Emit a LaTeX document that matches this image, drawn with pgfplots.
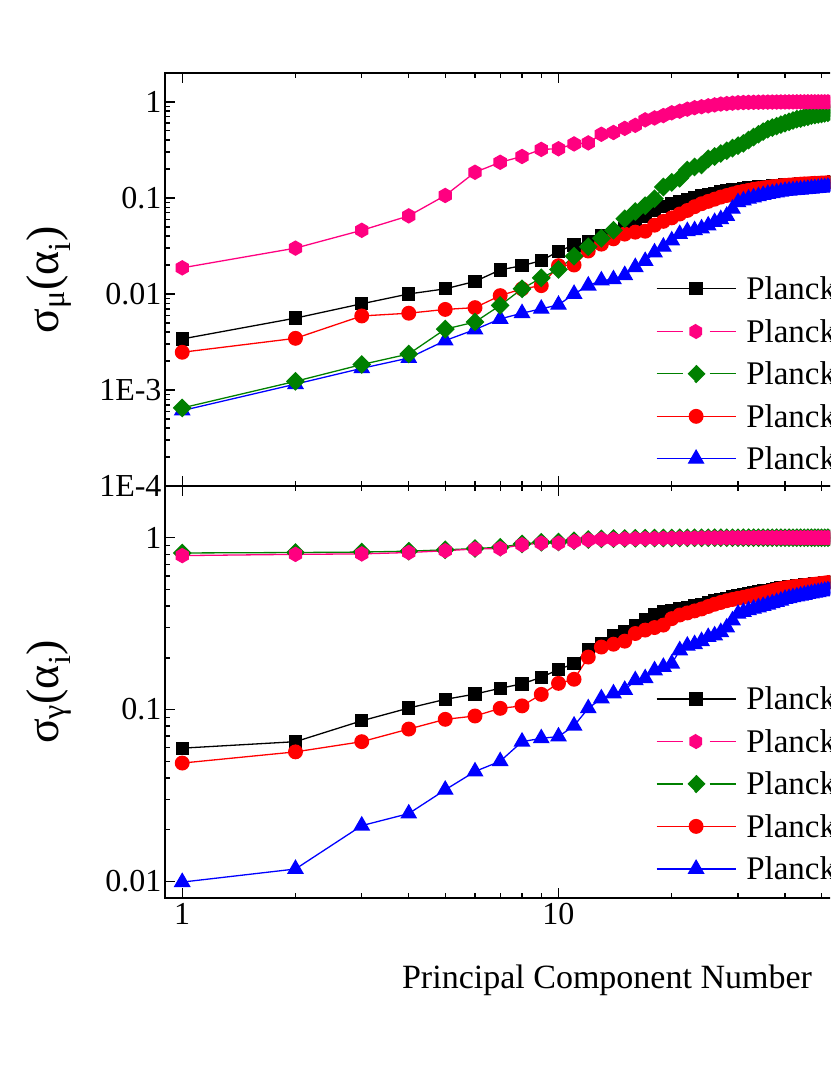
\documentclass[border=0pt]{standalone}
\usepackage{fontspec}
\setmainfont{Liberation Serif}
\usepackage{amsmath}
\usepackage{pgfplots}
\usepackage{pgfplotstable}
\pgfplotsset{compat=1.18}
\usetikzlibrary{plotmarks}
\definecolor{opink}{RGB}{255,0,128}
\definecolor{ogreen}{RGB}{0,128,0}
\definecolor{ored}{RGB}{255,0,0}
\definecolor{oblue}{RGB}{0,0,255}
\pgfdeclareplotmark{hexagon*}{%
  \pgfpathmoveto{\pgfpointpolar{90}{\pgfplotmarksize}}%
  \pgfpathlineto{\pgfpointpolar{150}{\pgfplotmarksize}}%
  \pgfpathlineto{\pgfpointpolar{210}{\pgfplotmarksize}}%
  \pgfpathlineto{\pgfpointpolar{270}{\pgfplotmarksize}}%
  \pgfpathlineto{\pgfpointpolar{330}{\pgfplotmarksize}}%
  \pgfpathlineto{\pgfpointpolar{30}{\pgfplotmarksize}}%
  \pgfpathclose\pgfusepathqfillstroke}
\pgfdeclareplotmark{rdiamond*}{%
  \pgfpathmoveto{\pgfqpoint{0pt}{\pgfplotmarksize}}%
  \pgfpathlineto{\pgfqpoint{\pgfplotmarksize}{0pt}}%
  \pgfpathlineto{\pgfqpoint{0pt}{-\pgfplotmarksize}}%
  \pgfpathlineto{\pgfqpoint{-\pgfplotmarksize}{0pt}}%
  \pgfpathclose\pgfusepathqfillstroke}

\pgfplotstableread{
x blk pnk grn red blu
1 0.0034 0.0187 0.00065 0.00247 0.00061
2 0.0056 0.030 0.00123 0.00345 0.00115
3 0.0079 0.046 0.00184 0.0059 0.00168
4 0.0100 0.065 0.00237 0.0063 0.00215
5 0.0113 0.106 0.0043 0.0069 0.00327
6 0.0135 0.185 0.0051 0.0072 0.00426
7 0.0178 0.235 0.0076 0.0096 0.0055
8 0.0197 0.27 0.0113 0.0113 0.0063
9 0.0222 0.32 0.0147 0.0122 0.0070
10 0.0278 0.325 0.018 0.0197 0.0077
11 0.0324 0.365 0.0247 0.0200 0.0100
12 0.0350 0.374 0.031 0.028 0.0122
13 0.0400 0.46 0.038 0.033 0.0138
14 0.0415 0.48 0.046 0.0375 0.0142
15 0.048 0.53 0.0607 0.042 0.0157
16 0.056 0.57 0.072 0.044 0.0190
17 0.065 0.65 0.083 0.045 0.0220
18 0.074 0.68 0.098 0.052 0.0270
19 0.082 0.72 0.130 0.057 0.0310
20 0.088 0.77 0.145 0.062 0.0360
21 0.092 0.80 0.160 0.068 0.042
22 0.097 0.84 0.195 0.074 0.045
23 0.101 0.87 0.21 0.081 0.046
24 0.105 0.89 0.22 0.087 0.048
25 0.109 0.91 0.255 0.092 0.0515
26 0.112 0.93 0.27 0.097 0.056
27 0.115 0.95 0.29 0.102 0.060
28 0.118 0.96 0.31 0.106 0.065
29 0.121 0.97 0.33 0.110 0.077
30 0.123 0.98 0.35 0.114 0.090
31 0.125 0.985 0.37 0.117 0.094
32 0.127 0.988 0.40 0.120 0.098
33 0.128 0.99 0.43 0.123 0.101
34 0.130 0.992 0.46 0.125 0.104
35 0.131 0.994 0.49 0.127 0.107
36 0.132 0.995 0.52 0.129 0.110
37 0.133 0.996 0.54 0.131 0.112
38 0.134 0.997 0.56 0.132 0.114
39 0.135 0.998 0.58 0.134 0.116
40 0.136 0.998 0.60 0.135 0.118
41 0.137 0.999 0.62 0.136 0.119
42 0.138 0.999 0.64 0.137 0.120
43 0.139 1.0 0.66 0.138 0.121
44 0.140 1.0 0.67 0.139 0.122
45 0.140 1.0 0.69 0.140 0.123
46 0.141 1.0 0.70 0.140 0.124
47 0.142 1.0 0.72 0.141 0.125
48 0.142 1.0 0.73 0.142 0.126
49 0.143 1.0 0.74 0.142 0.127
50 0.144 1.0 0.75 0.143 0.128
51 0.144 1.0 0.76 0.143 0.129
52 0.145 1.0 0.77 0.144 0.130
53 0.145 1.0 0.78 0.144 0.131
54 0.146 1.0 0.79 0.145 0.132
55 0.146 1.0 0.80 0.145 0.133
}\tabmu

\pgfplotstableread{
x blk pnk grn red blu
1 0.0596 0.787 0.815 0.0488 0.0099
2 0.065 0.80 0.82 0.0567 0.0118
3 0.086 0.805 0.825 0.065 0.0211
4 0.102 0.82 0.835 0.077 0.0248
5 0.1146 0.84 0.85 0.0877 0.0341
6 0.123 0.86 0.865 0.0917 0.0436
7 0.133 0.865 0.88 0.1016 0.050
8 0.141 0.91 0.92 0.105 0.065
9 0.154 0.93 0.94 0.1225 0.068
10 0.171 0.93 0.945 0.142 0.0696
11 0.185 0.95 0.96 0.150 0.0805
12 0.223 0.97 0.975 0.202 0.1016
13 0.242 0.98 0.985 0.231 0.116
14 0.268 0.98 0.988 0.240 0.124
15 0.283 0.985 0.99 0.250 0.130
16 0.306 0.987 0.992 0.277 0.148
17 0.333 0.989 0.994 0.290 0.152
18 0.358 0.99 0.995 0.300 0.169
19 0.370 0.992 0.996 0.310 0.177
20 0.377 0.993 0.997 0.338 0.185
21 0.385 0.994 0.998 0.355 0.221
22 0.392 0.995 0.998 0.365 0.235
23 0.400 0.996 0.999 0.375 0.240
24 0.410 0.997 0.999 0.385 0.250
25 0.420 0.998 1.0 0.398 0.264
26 0.428 0.998 1.0 0.410 0.270
27 0.436 0.998 1.0 0.420 0.282
28 0.444 0.999 1.0 0.430 0.300
29 0.452 0.999 1.0 0.437 0.330
30 0.460 0.999 1.0 0.444 0.361
31 0.466 0.999 1.0 0.450 0.370
32 0.472 0.999 1.0 0.457 0.378
33 0.478 1.0 1.0 0.464 0.386
34 0.484 1.0 1.0 0.471 0.393
35 0.490 1.0 1.0 0.478 0.400
36 0.495 1.0 1.0 0.485 0.408
37 0.500 1.0 1.0 0.492 0.415
38 0.505 1.0 1.0 0.499 0.422
39 0.510 1.0 1.0 0.505 0.430
40 0.515 1.0 1.0 0.510 0.440
41 0.518 1.0 1.0 0.514 0.445
42 0.521 1.0 1.0 0.518 0.450
43 0.524 1.0 1.0 0.521 0.455
44 0.527 1.0 1.0 0.524 0.460
45 0.530 1.0 1.0 0.527 0.465
46 0.533 1.0 1.0 0.530 0.470
47 0.536 1.0 1.0 0.533 0.474
48 0.538 1.0 1.0 0.536 0.478
49 0.540 1.0 1.0 0.539 0.482
50 0.542 1.0 1.0 0.542 0.486
51 0.545 1.0 1.0 0.545 0.490
52 0.548 1.0 1.0 0.548 0.494
53 0.550 1.0 1.0 0.551 0.498
54 0.553 1.0 1.0 0.554 0.502
55 0.556 1.0 1.0 0.557 0.506
}\tabga

\tikzset{
  ln/.style={line width=1.3pt, mark options={solid, line width=0.4pt}},
  sblk/.style={ln, draw=black, mark=square*, mark size=6pt, mark options={fill=black, draw=black}},
  spnk/.style={ln, draw=opink, mark=hexagon*, mark size=7pt, mark options={fill=opink, draw=opink}},
  sgrn/.style={ln, draw=ogreen, mark=rdiamond*, mark size=8.5pt, mark options={fill=ogreen, draw=ogreen}},
  sred/.style={ln, draw=ored, mark=*, mark size=6.8pt, mark options={fill=ored, draw=ored}},
  sblu/.style={ln, draw=oblue, mark=triangle*, mark size=8.5pt, mark options={fill=oblue, draw=oblue}},
}
\pgfplotsset{
  legend image code/.code={%
    \draw[mark repeat=2,mark phase=2,#1] plot coordinates {(0pt,4pt) (39.5pt,4pt) (79pt,4pt)};},
}

\begin{document}
\begin{tikzpicture}
\useasboundingbox (0pt,0pt) rectangle (830pt,1075pt);
\clip (0pt,0pt) rectangle (830pt,1075pt);

\begin{axis}[scale only axis, width=883pt, height=413pt,
  at={(165pt,589pt)}, anchor=south west,
  xmode=log, ymode=log, xmin=0.9, xmax=200,
  ymin=1e-4, ymax=2,
  axis line style={line width=1.6pt},
  tick style={line width=1.4pt, black},
  major tick length=10pt, minor tick length=5pt,
  tick align=inside,
  xtick={1,10,100}, xticklabels={},
  ytick={1e-4,1e-3,0.01,0.1,1}, yticklabels={1E-4,1E-3,0.01,0.1,1},
  tick label style={font=\fontsize{32pt}{32pt}\selectfont},
  legend cell align=left,
  legend style={draw=none, fill=none, at={(0.556,0.504)}, anchor=north west,
    inner sep=0pt, outer sep=0pt, row sep=12.5pt, column sep=10pt,
    nodes={inner sep=0pt, text height=22pt, text depth=8pt,
      font=\fontsize{33pt}{33pt}\selectfont}}]
\addplot[sblk, forget plot] table[x=x, y=blk] {\tabmu};
\addplot[sred, forget plot] table[x=x, y=red] {\tabmu};
\addplot[sblu, forget plot] table[x=x, y=blu] {\tabmu};
\addplot[sgrn, forget plot] table[x=x, y=grn] {\tabmu};
\addplot[spnk, forget plot] table[x=x, y=pnk] {\tabmu};
\addlegendimage{sblk}
\addlegendimage{spnk, dash pattern=on 26pt off 27pt}
\addlegendimage{sgrn, dash pattern=on 26pt off 27pt}
\addlegendimage{sred}
\addlegendimage{sblu}
\legend{Planck,Planck,Planck,Planck,Planck}
\end{axis}

\begin{axis}[scale only axis, width=883pt, height=412pt,
  at={(165pt,177pt)}, anchor=south west,
  xmode=log, ymode=log, xmin=0.9, xmax=200,
  ymin=0.008, ymax=2,
  axis line style={line width=1.6pt},
  tick style={line width=1.4pt, black},
  major tick length=10pt, minor tick length=5pt,
  tick align=inside,
  xtick={1,10,100}, xticklabels={1,10,100},
  xticklabel style={yshift=-2pt},
  ytick={0.01,0.1,1}, yticklabels={0.01,0.1,1},
  tick label style={font=\fontsize{32pt}{32pt}\selectfont},
  legend cell align=left,
  legend style={draw=none, fill=none, at={(0.556,0.510)}, anchor=north west,
    inner sep=0pt, outer sep=0pt, row sep=12.5pt, column sep=10pt,
    nodes={inner sep=0pt, text height=22pt, text depth=8pt,
      font=\fontsize{33pt}{33pt}\selectfont}}]
\addplot[sblk, forget plot] table[x=x, y=blk] {\tabga};
\addplot[sred, forget plot] table[x=x, y=red] {\tabga};
\addplot[sblu, forget plot] table[x=x, y=blu] {\tabga};
\addplot[sgrn, forget plot] table[x=x, y=grn] {\tabga};
\addplot[spnk, forget plot] table[x=x, y=pnk] {\tabga};
\addlegendimage{sblk}
\addlegendimage{spnk, dash pattern=on 26pt off 27pt}
\addlegendimage{sgrn, dash pattern=on 26pt off 27pt}
\addlegendimage{sred}
\addlegendimage{sblu}
\legend{Planck,Planck,Planck,Planck,Planck}
\end{axis}

\node[rotate=90, anchor=base, font=\fontsize{46pt}{46pt}\selectfont] at (58pt,795pt)
  {$\text{σ}_{\text{μ}}\text{(}\text{α}_{\text{i}}\text{)}$};
\node[rotate=90, anchor=base, font=\fontsize{46pt}{46pt}\selectfont] at (58pt,383pt)
  {$\text{σ}_{\text{γ}}\text{(}\text{α}_{\text{i}}\text{)}$};
\node[anchor=base, font=\fontsize{34pt}{34pt}\selectfont] at (607pt,86pt)
  {Principal Component Number};
\end{tikzpicture}
\end{document}
